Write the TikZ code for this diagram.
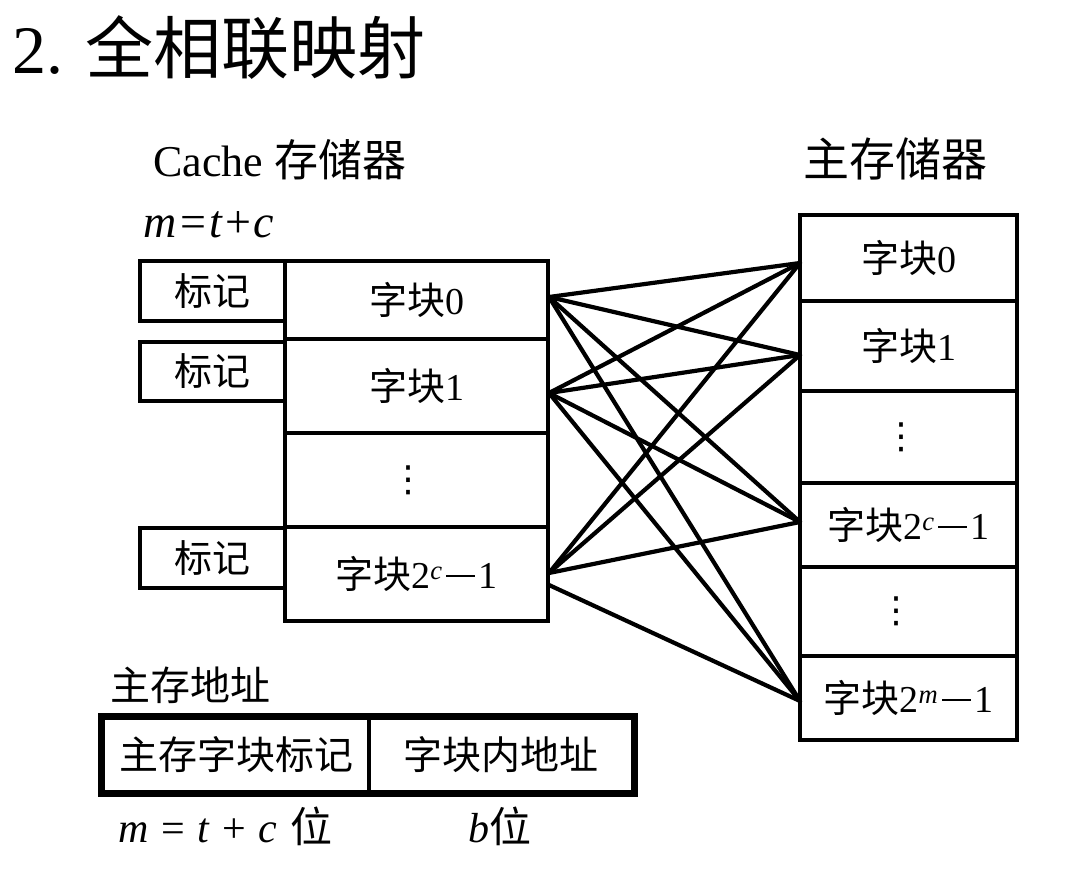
\documentclass[tikz,border=0pt]{standalone}
\usepackage{fontspec}
\setmainfont{Liberation Serif}
\newfontfamily\cjk{Noto Sans CJK SC}
\newfontfamily\sym{DejaVu Sans}
\newcommand\fsz[1]{\fontsize{#1}{#1}\selectfont}
\newcommand\mrule{\hspace{0.1em}\rule[0.3em]{0.75em}{0.06em}\hspace{0.1em}}
\newcommand\vdts{{\sym ⋮}}
\newcommand\blk{{\cjk 字块}}
\begin{document}
\begin{tikzpicture}[x=1pt,y=-1pt,
  cell/.style={draw, line width=3.5pt, inner sep=0pt, font=\fsz{38}},
  cachecell/.style={cell, minimum width=263pt},
  tagcell/.style={cell, minimum width=145pt},
  memcell/.style={cell, minimum width=217pt},
  addrcell/.style={draw, line width=3.5pt, inner sep=0pt, minimum height=74pt, font=\fsz{39}},
  lbl/.style={inner sep=0pt, anchor=base west},
  link/.style={line width=4.2pt, line cap=round}]
\fill[white] (0,0) rectangle (1074,880);
\useasboundingbox (0,0) rectangle (1074,880);

% titles
\node[lbl, font=\fsz{68}] (title) at (12,74) {2. {\cjk 全相联映射}};
\node[lbl, font=\fsz{44}] (cachelbl) at (153,177) {Cache {\cjk 存储器}};
\node[lbl, font=\fsz{46}] (mainlbl) at (803,177) {{\cjk 主存储器}};
\node[lbl, font=\fsz{46}] (mtc) at (143,237) {\textit{m}\hspace{.08em}=\hspace{.08em}\textit{t}\hspace{.04em}+\hspace{.04em}\textit{c}};

% cache blocks
\node[cachecell, minimum height=78pt] (c0) at (416.5,300) {\blk 0};
\node[cachecell, minimum height=94pt] (c1) at (416.5,386) {\blk 1};
\node[cachecell, minimum height=94pt] (c2) at (416.5,480) {\hspace{-16pt}\fsz{36}\vdts};
\node[cachecell, minimum height=94pt] (c3) at (416.5,574) {\blk 2\textsuperscript{\textit{c}}\mrule 1};

% tags
\node[tagcell, minimum height=60pt] (tg0) at (212.5,291) {{\cjk 标记}};
\node[tagcell, minimum height=59pt] (tg1) at (212.5,371.5) {{\cjk 标记}};
\node[tagcell, minimum height=60pt] (tg2) at (212.5,558) {{\cjk 标记}};

% main memory
\node[memcell, minimum height=86pt] (m0) at (908.5,258) {\blk 0};
\node[memcell, minimum height=90pt] (m1) at (908.5,346) {\blk 1};
\node[memcell, minimum height=92pt] (m2) at (908.5,437) {\hspace{-14pt}\fsz{36}\vdts};
\node[memcell, minimum height=84pt] (m3) at (908.5,525) {\blk 2\textsuperscript{\textit{c}}\mrule 1};
\node[memcell, minimum height=89pt] (m4) at (908.5,611.5) {\hspace{-24pt}\fsz{36}\vdts};
\node[memcell, minimum height=84pt] (m5) at (908.5,698) {\blk 2\textsuperscript{\textit{m}}\mrule 1};

% connection points
\coordinate (s0) at (549,297);
\coordinate (s1) at (549,393);
\coordinate (s2) at (549,573);
\coordinate (s2b) at (549,585);
\coordinate (t0) at (800,263);
\coordinate (t1) at (800,355);
\coordinate (t2) at (800,522);
\coordinate (t3) at (800,701);

\draw[link] (s0) -- (t0);
\draw[link] (s0) -- (t1);
\draw[link] (s0) -- (t2);
\draw[link] (s0) -- (t3);
\draw[link] (s1) -- (t0);
\draw[link] (s1) -- (t1);
\draw[link] (s1) -- (t2);
\draw[link] (s1) -- (t3);
\draw[link] (s2) -- (t0);
\draw[link] (s2) -- (t1);
\draw[link] (s2) -- (t2);
\draw[link] (s2b) -- (t3);

% main memory address
\node[lbl, font=\fsz{40}] (addrlbl) at (110,700) {{\cjk 主存地址}};
\node[addrcell, minimum width=266pt] (a0) at (236,755) {{\cjk 主存字块标记}};
\node[addrcell, minimum width=264pt] (a1) at (501,755) {{\cjk 字块内地址}};
\draw[line width=6pt] (a0.north west) rectangle (a1.south east);
\node[lbl, font=\fsz{42}] (bits1) at (118,842) {\textit{m}\hspace{.3em}=\hspace{.3em}\textit{t}\hspace{.3em}+\hspace{.3em}\textit{c}\hspace{.3em}{\cjk 位}};
\node[lbl, font=\fsz{42}] (bits2) at (468,842) {\textit{b}{\cjk 位}};
\end{tikzpicture}
\end{document}
